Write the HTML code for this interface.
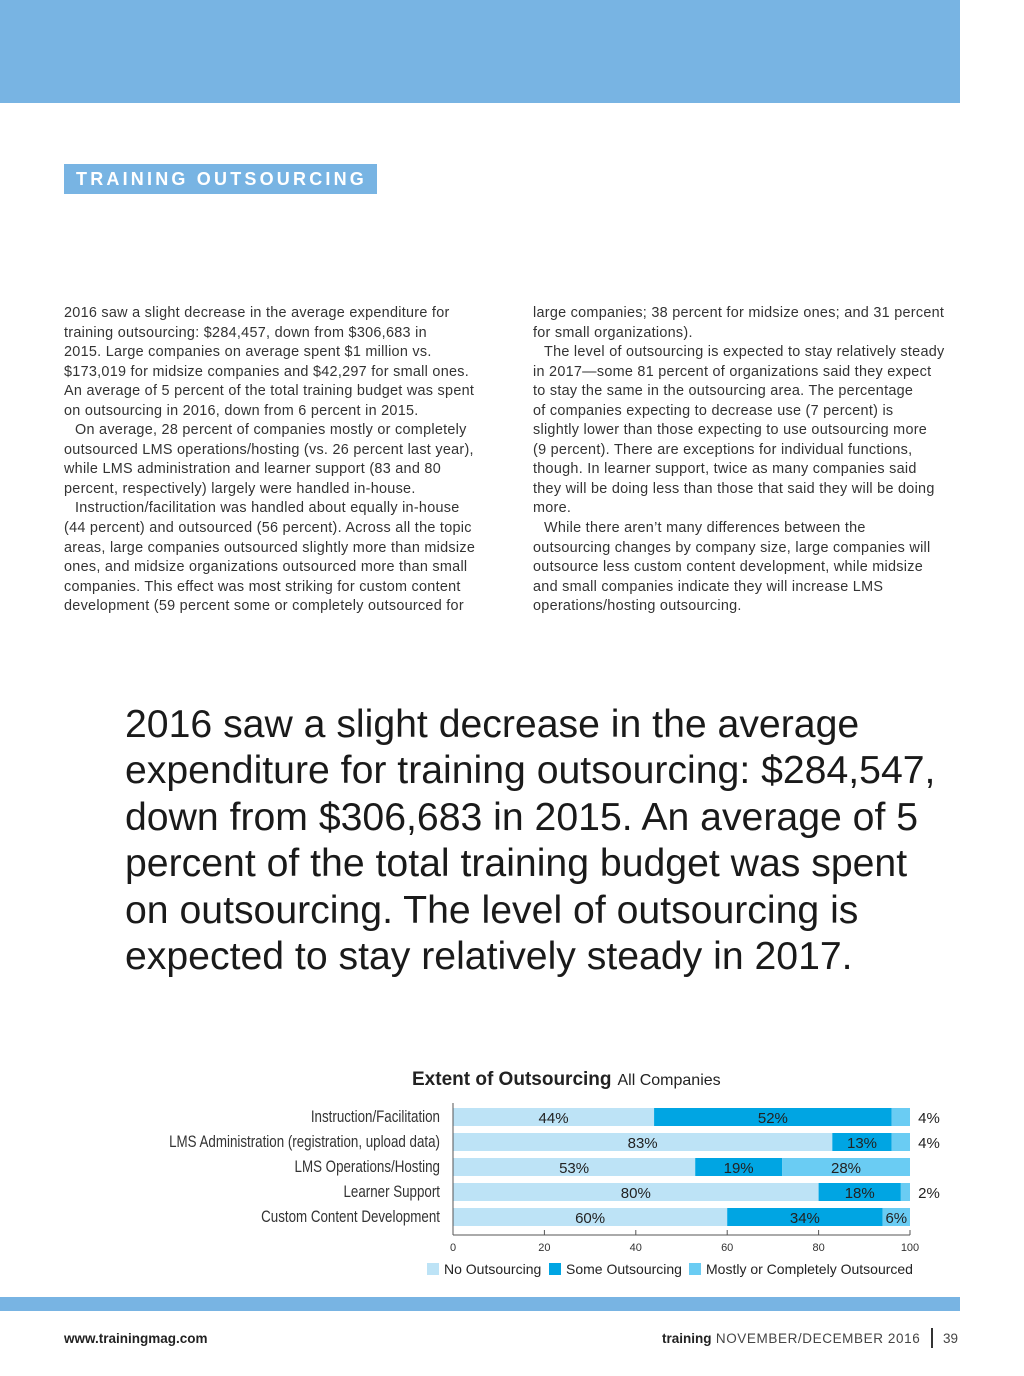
<!DOCTYPE html>
<html><head><meta charset="utf-8"><style>
body{margin:0;width:1024px;height:1376px;position:relative;background:#fff;font-family:"Liberation Sans",sans-serif;color:#231f20;overflow:hidden}
.abs{position:absolute}
.col{position:absolute;top:304px;width:440px;font-size:14.4px;line-height:19.55px;color:#333;letter-spacing:0.28px;white-space:nowrap}
.col span{display:block}
.col span.i{text-indent:11px}
.quote{position:absolute;left:125px;top:702px;font-size:39.2px;line-height:46.4px;color:#1a1a1a;white-space:nowrap}
svg text{font-family:"Liberation Sans",sans-serif}
</style></head><body>
<div class="abs" style="left:0;top:0;width:960px;height:103px;background:#78b4e3"></div>
<div class="abs" style="left:64px;top:164px;width:313px;height:30px;background:#78b4e3;color:#fff;font-weight:bold;font-size:18px;letter-spacing:3.2px;line-height:31px;text-indent:12px;white-space:nowrap;overflow:hidden">TRAINING OUTSOURCING</div>
<div class="col" style="left:64px">
<span>2016 saw a slight decrease in the average expenditure for</span>
<span>training outsourcing: $284,457, down from $306,683 in</span>
<span>2015. Large companies on average spent $1 million vs.</span>
<span>$173,019 for midsize companies and $42,297 for small ones.</span>
<span>An average of 5 percent of the total training budget was spent</span>
<span>on outsourcing in 2016, down from 6 percent in 2015.</span>
<span class="i">On average, 28 percent of companies mostly or completely</span>
<span>outsourced LMS operations/hosting (vs. 26 percent last year),</span>
<span>while LMS administration and learner support (83 and 80</span>
<span>percent, respectively) largely were handled in-house.</span>
<span class="i">Instruction/facilitation was handled about equally in-house</span>
<span>(44 percent) and outsourced (56 percent). Across all the topic</span>
<span>areas, large companies outsourced slightly more than midsize</span>
<span>ones, and midsize organizations outsourced more than small</span>
<span>companies. This effect was most striking for custom content</span>
<span>development (59 percent some or completely outsourced for</span>
</div>
<div class="col" style="left:533px">
<span>large companies; 38 percent for midsize ones; and 31 percent</span>
<span>for small organizations).</span>
<span class="i">The level of outsourcing is expected to stay relatively steady</span>
<span>in 2017—some 81 percent of organizations said they expect</span>
<span>to stay the same in the outsourcing area. The percentage</span>
<span>of companies expecting to decrease use (7 percent) is</span>
<span>slightly lower than those expecting to use outsourcing more</span>
<span>(9 percent). There are exceptions for individual functions,</span>
<span>though. In learner support, twice as many companies said</span>
<span>they will be doing less than those that said they will be doing</span>
<span>more.</span>
<span class="i">While there aren’t many differences between the</span>
<span>outsourcing changes by company size, large companies will</span>
<span>outsource less custom content development, while midsize</span>
<span>and small companies indicate they will increase LMS</span>
<span>operations/hosting outsourcing.</span>
</div>
<div class="quote">2016 saw a slight decrease in the average<br>expenditure for training outsourcing: $284,547,<br>down from $306,683 in 2015. An average of 5<br>percent of the total training budget was spent<br>on outsourcing. The level of outsourcing is<br>expected to stay relatively steady in 2017.</div>

<svg class="abs" style="left:0;top:1060px" width="1024" height="230" id="chart"></svg>

<div class="abs" style="left:0;top:1297px;width:960px;height:14px;background:#78b4e3"></div>
<div class="abs" style="left:64px;top:1331px;font-size:13.5px;font-weight:bold;color:#222">www.trainingmag.com</div>
<div class="abs" style="left:662px;top:1331px;font-size:13.5px;color:#444;letter-spacing:0.6px;white-space:nowrap"><b style="color:#222;letter-spacing:0">training</b> NOVEMBER/DECEMBER 2016</div>
<div class="abs" style="left:931px;top:1328px;width:2px;height:20px;background:#333"></div>
<div class="abs" style="left:943px;top:1331px;font-size:13.5px;color:#444">39</div>

<script>
const categories=["Instruction/Facilitation","LMS Administration (registration, upload data)","LMS Operations/Hosting","Learner Support","Custom Content Development"];
const noOut=[44,83,53,80,60];
const someOut=[52,13,19,18,34];
const mostlyOut=[4,4,28,2,6];
const ticks=[0,20,40,60,80,100];
const seriesNames=["No Outsourcing","Some Outsourcing","Mostly or Completely Outsourced"];
const colors=["#bde3f6","#00a5e3","#6accf3"];
const NS="http://www.w3.org/2000/svg";
const svg=document.getElementById('chart');
const x0=453,x1=910;
const xs=v=>x0+(x1-x0)*v/100;
const yRow=i=>57+25*i;
function mk(t,a,txt){const e=document.createElementNS(NS,t);for(const k in a)e.setAttribute(k,a[k]);if(txt!=null)e.textContent=txt;svg.appendChild(e);return e;}
let t=mk('text',{x:412,y:25,'font-size':19,fill:'#222'});


t.innerHTML='<tspan font-weight="bold">Extent of Outsourcing</tspan><tspan font-size="16" dx="6">All Companies</tspan>';
const series=[noOut,someOut,mostlyOut];
categories.forEach((c,i)=>{
  const y=yRow(i);
  const l=mk('text',{x:440,y:y+5,'text-anchor':'end','font-size':16.5,fill:'#333',transform:`translate(440,0) scale(0.81,1) translate(-440,0)`},c);
  
  
  let acc=0;
  series.forEach((s,j)=>{
    const v=s[i];
    const r=mk('rect',{x:xs(acc),y:y-9,width:xs(acc+v)-xs(acc),height:18,fill:colors[j]});
    
    
    const inside=v>=5;
    const lx=inside?(xs(acc)+xs(acc+v))/2:xs(100)+19;
    const lb=mk('text',{x:lx,y:y+6,'text-anchor':'middle','font-size':15,fill:'#222'},v+'%');
    
    
    acc+=v;
  });
});
let ax=mk('line',{x1:x0,y1:43,x2:x0,y2:175,stroke:'#555','stroke-width':1});


ax=mk('line',{x1:x0,y1:175,x2:x1,y2:175,stroke:'#555','stroke-width':1});


ticks.forEach(v=>{
  mk('line',{x1:xs(v),y1:170,x2:xs(v),y2:175,stroke:'#555'});
  const tl=mk('text',{x:xs(v),y:191,'text-anchor':'middle','font-size':11,fill:'#333'},v);
  
  
});
const lx=[427,549,689];
seriesNames.forEach((n,j)=>{
  const r=mk('rect',{x:lx[j],y:203,width:12,height:12,fill:colors[j]});
  
  
  const tx=mk('text',{x:lx[j]+17,y:214,'font-size':14,fill:'#222'},n);
  
  
});
</script>
</body></html>
